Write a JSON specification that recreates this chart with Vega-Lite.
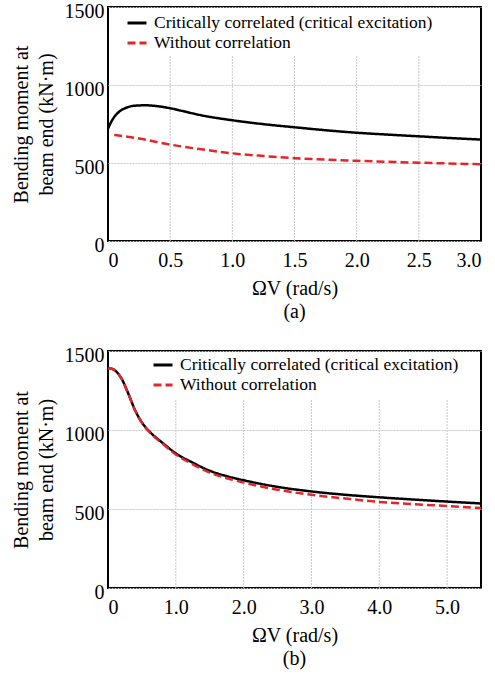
{
  "$schema": "https://vega.github.io/schema/vega-lite/v6.json",
  "background": "white",
  "padding": {"left": 10, "top": 0, "right": 4, "bottom": 4},
  "spacing": 21,
  "config": {
    "font": "Liberation Serif",
    "view": {"stroke": "black", "strokeWidth": 2},
    "axis": {
      "labelFont": "Liberation Serif", "titleFont": "Liberation Serif",
      "labelFontSize": 20, "titleFontSize": 20, "labelColor": "black", "titleColor": "black",
      "titleFontWeight": "normal", "labelFontWeight": "normal", "domain": false, "ticks": false, "labelPadding": 4
    },
    "legend": {
      "labelFont": "Liberation Serif", "labelFontSize": 17.5, "labelColor": "black", "labelLimit": 400
    }
  },
  "vconcat": [
    {
      "width": 373, "height": 234,
      "title": {"text": "(a)", "orient": "bottom", "fontSize": 20, "fontWeight": "normal", "font": "Liberation Serif", "color": "black", "offset": 4},
      "encoding": {
        "x": {"field": "w", "type": "quantitative", "scale": {"domain": [0, 3], "nice": false},
          "axis": {"values": [0, 0.5, 1, 1.5, 2, 2.5, 3], "grid": false, "title": "ΩV (rad/s)", "titlePadding": 8, "labelPadding": 9,
            "labelExpr": "datum.value == 0 ? '0' : format(datum.value, '.1f')"}}
      },
      "layer": [
        {
          "data": {"values": [{"w": 0.5}, {"w": 1.0}, {"w": 1.5}, {"w": 2.0}, {"w": 2.5}]},
          "mark": {"type": "rule", "color": "#c8c8c8", "strokeWidth": 1, "strokeDash": [2, 1]},
          "encoding": {"y": {"datum": 0}, "y2": {"datum": 1190}}
        },
        {
          "data": {"values": [
            {"s": "Critically correlated (critical excitation)", "w": 0, "m": 720},
            {"s": "Critically correlated (critical excitation)", "w": 0.03, "m": 770},
            {"s": "Critically correlated (critical excitation)", "w": 0.06, "m": 805},
            {"s": "Critically correlated (critical excitation)", "w": 0.1, "m": 835},
            {"s": "Critically correlated (critical excitation)", "w": 0.15, "m": 855},
            {"s": "Critically correlated (critical excitation)", "w": 0.2, "m": 866},
            {"s": "Critically correlated (critical excitation)", "w": 0.3, "m": 870},
            {"s": "Critically correlated (critical excitation)", "w": 0.4, "m": 864},
            {"s": "Critically correlated (critical excitation)", "w": 0.5, "m": 851},
            {"s": "Critically correlated (critical excitation)", "w": 0.6, "m": 833},
            {"s": "Critically correlated (critical excitation)", "w": 0.75, "m": 806},
            {"s": "Critically correlated (critical excitation)", "w": 1.0, "m": 774},
            {"s": "Critically correlated (critical excitation)", "w": 1.25, "m": 749},
            {"s": "Critically correlated (critical excitation)", "w": 1.5, "m": 729},
            {"s": "Critically correlated (critical excitation)", "w": 1.75, "m": 710},
            {"s": "Critically correlated (critical excitation)", "w": 2.0, "m": 694},
            {"s": "Critically correlated (critical excitation)", "w": 2.25, "m": 682},
            {"s": "Critically correlated (critical excitation)", "w": 2.5, "m": 671},
            {"s": "Critically correlated (critical excitation)", "w": 2.75, "m": 660},
            {"s": "Critically correlated (critical excitation)", "w": 3.0, "m": 650},
            {"s": "Without correlation", "w": 0.05, "m": 680},
            {"s": "Without correlation", "w": 0.25, "m": 657},
            {"s": "Without correlation", "w": 0.5, "m": 618},
            {"s": "Without correlation", "w": 0.75, "m": 588},
            {"s": "Without correlation", "w": 1.0, "m": 562},
            {"s": "Without correlation", "w": 1.25, "m": 545},
            {"s": "Without correlation", "w": 1.5, "m": 531},
            {"s": "Without correlation", "w": 1.75, "m": 522},
            {"s": "Without correlation", "w": 2.0, "m": 514},
            {"s": "Without correlation", "w": 2.5, "m": 502},
            {"s": "Without correlation", "w": 3.0, "m": 492}
          ]},
          "mark": {"type": "line", "strokeWidth": 2.5, "interpolate": "monotone"},
          "encoding": {
            "y": {"field": "m", "type": "quantitative", "scale": {"domain": [0, 1500], "nice": false},
              "axis": {"values": [0, 500, 1000, 1500], "format": "d", "grid": true, "gridColor": "#c8c8c8", "gridDash": [2, 1], "labelOffset": 4,
                "title": ["Bending moment at", "beam end (kN·m)"], "titlePadding": 8, "titleLineHeight": 25}},
            "color": {"field": "s", "type": "nominal",
              "scale": {"domain": ["Critically correlated (critical excitation)", "Without correlation"], "range": ["black", "#e3262c"]},
              "legend": {"orient": "none", "legendX": 18, "legendY": 5, "title": null, "symbolType": "stroke", "symbolSize": 361, "symbolStrokeWidth": 3, "labelOffset": 6, "rowPadding": 0}},
            "strokeDash": {"field": "s", "type": "nominal",
              "scale": {"domain": ["Critically correlated (critical excitation)", "Without correlation"], "range": [[1, 0], [8, 4]]},
              "legend": {"orient": "none", "legendX": 18, "legendY": 5, "title": null, "symbolType": "stroke", "symbolSize": 361, "symbolStrokeWidth": 3, "labelOffset": 6, "rowPadding": 0}}
          }
        }
      ]
    },
    {
      "width": 373, "height": 237,
      "title": {"text": "(b)", "orient": "bottom", "fontSize": 20, "fontWeight": "normal", "font": "Liberation Serif", "color": "black", "offset": 4},
      "encoding": {
        "x": {"field": "w", "type": "quantitative", "scale": {"domain": [0, 5.5], "nice": false},
          "axis": {"values": [0, 1, 2, 3, 4, 5], "grid": false, "title": "ΩV (rad/s)", "titlePadding": 8, "labelPadding": 9,
            "labelExpr": "datum.value == 0 ? '0' : format(datum.value, '.1f')"}}
      },
      "layer": [
        {
          "data": {"values": [{"w": 1}, {"w": 2}, {"w": 3}, {"w": 4}, {"w": 5}]},
          "mark": {"type": "rule", "color": "#c8c8c8", "strokeWidth": 1, "strokeDash": [2, 1]},
          "encoding": {"y": {"datum": 0}, "y2": {"datum": 1195}}
        },
        {
          "data": {"values": [
            {"s": "Critically correlated (critical excitation)", "w": 0, "m": 1390},
            {"s": "Critically correlated (critical excitation)", "w": 0.05, "m": 1388},
            {"s": "Critically correlated (critical excitation)", "w": 0.1, "m": 1378},
            {"s": "Critically correlated (critical excitation)", "w": 0.2, "m": 1325},
            {"s": "Critically correlated (critical excitation)", "w": 0.3, "m": 1230},
            {"s": "Critically correlated (critical excitation)", "w": 0.4, "m": 1125},
            {"s": "Critically correlated (critical excitation)", "w": 0.5, "m": 1048},
            {"s": "Critically correlated (critical excitation)", "w": 0.6, "m": 995},
            {"s": "Critically correlated (critical excitation)", "w": 0.7, "m": 955},
            {"s": "Critically correlated (critical excitation)", "w": 0.8, "m": 920},
            {"s": "Critically correlated (critical excitation)", "w": 1.0, "m": 852},
            {"s": "Critically correlated (critical excitation)", "w": 1.25, "m": 793},
            {"s": "Critically correlated (critical excitation)", "w": 1.5, "m": 742},
            {"s": "Critically correlated (critical excitation)", "w": 1.75, "m": 708},
            {"s": "Critically correlated (critical excitation)", "w": 2.0, "m": 682},
            {"s": "Critically correlated (critical excitation)", "w": 2.5, "m": 640},
            {"s": "Critically correlated (critical excitation)", "w": 3.0, "m": 611},
            {"s": "Critically correlated (critical excitation)", "w": 3.5, "m": 590},
            {"s": "Critically correlated (critical excitation)", "w": 4.0, "m": 574},
            {"s": "Critically correlated (critical excitation)", "w": 4.5, "m": 560},
            {"s": "Critically correlated (critical excitation)", "w": 5.0, "m": 547},
            {"s": "Critically correlated (critical excitation)", "w": 5.5, "m": 535},
            {"s": "Without correlation", "w": 0, "m": 1390},
            {"s": "Without correlation", "w": 0.05, "m": 1388},
            {"s": "Without correlation", "w": 0.1, "m": 1378},
            {"s": "Without correlation", "w": 0.2, "m": 1325},
            {"s": "Without correlation", "w": 0.3, "m": 1228},
            {"s": "Without correlation", "w": 0.4, "m": 1122},
            {"s": "Without correlation", "w": 0.5, "m": 1045},
            {"s": "Without correlation", "w": 0.6, "m": 992},
            {"s": "Without correlation", "w": 0.7, "m": 950},
            {"s": "Without correlation", "w": 0.8, "m": 915},
            {"s": "Without correlation", "w": 1.0, "m": 845},
            {"s": "Without correlation", "w": 1.25, "m": 783},
            {"s": "Without correlation", "w": 1.5, "m": 730},
            {"s": "Without correlation", "w": 1.75, "m": 695},
            {"s": "Without correlation", "w": 2.0, "m": 667},
            {"s": "Without correlation", "w": 2.5, "m": 622},
            {"s": "Without correlation", "w": 3.0, "m": 590},
            {"s": "Without correlation", "w": 3.5, "m": 566},
            {"s": "Without correlation", "w": 4.0, "m": 545},
            {"s": "Without correlation", "w": 4.5, "m": 531},
            {"s": "Without correlation", "w": 5.0, "m": 519},
            {"s": "Without correlation", "w": 5.5, "m": 506}
          ]},
          "mark": {"type": "line", "strokeWidth": 2.5, "interpolate": "monotone"},
          "encoding": {
            "y": {"field": "m", "type": "quantitative", "scale": {"domain": [0, 1500], "nice": false},
              "axis": {"values": [0, 500, 1000, 1500], "format": "d", "grid": true, "gridColor": "#c8c8c8", "gridDash": [2, 1], "labelOffset": 4,
                "title": ["Bending moment at", "beam end (kN·m)"], "titlePadding": 8, "titleLineHeight": 25}},
            "color": {"field": "s", "type": "nominal",
              "scale": {"domain": ["Critically correlated (critical excitation)", "Without correlation"], "range": ["black", "#e3262c"]},
              "legend": {"orient": "none", "legendX": 44, "legendY": 3, "title": null, "symbolType": "stroke", "symbolSize": 361, "symbolStrokeWidth": 3, "labelOffset": 6, "rowPadding": 0}},
            "strokeDash": {"field": "s", "type": "nominal",
              "scale": {"domain": ["Critically correlated (critical excitation)", "Without correlation"], "range": [[1, 0], [8, 4]]},
              "legend": {"orient": "none", "legendX": 44, "legendY": 3, "title": null, "symbolType": "stroke", "symbolSize": 361, "symbolStrokeWidth": 3, "labelOffset": 6, "rowPadding": 0}}
          }
        }
      ]
    }
  ],
  "resolve": {"scale": {"color": "independent", "strokeDash": "independent"}, "legend": {"color": "independent", "strokeDash": "independent"}}
}
